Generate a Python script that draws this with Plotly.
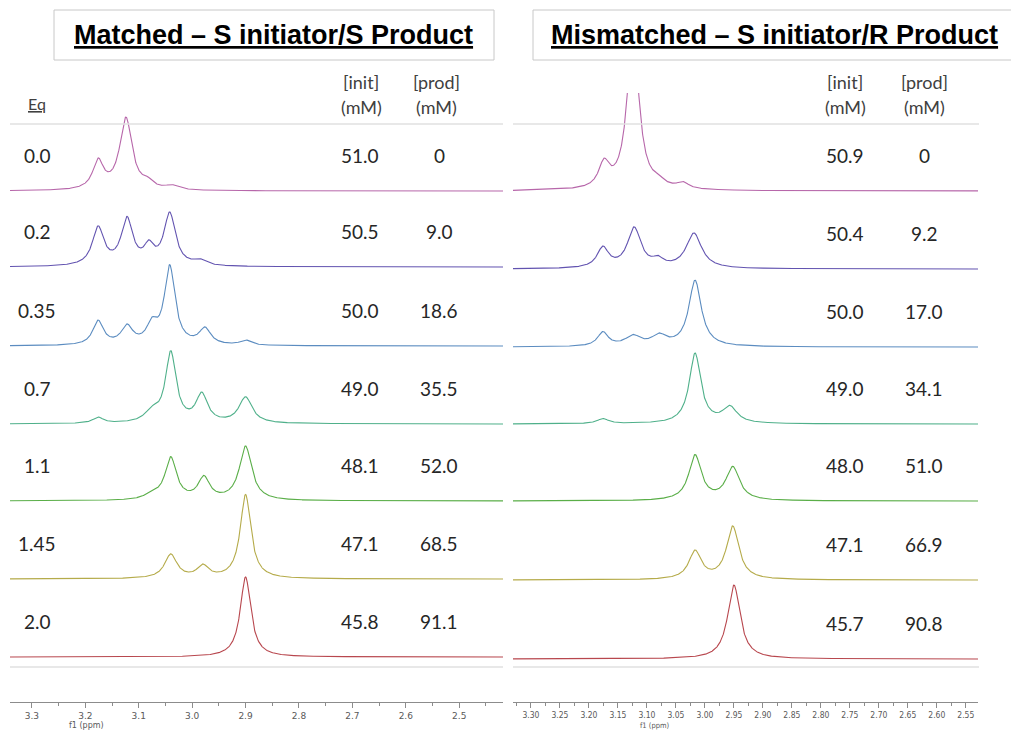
import numpy as np
import plotly.graph_objects as go

W, H = 1011, 730

# ---------------- data ----------------
eq_labels = ["0.0", "0.2", "0.35", "0.7", "1.1", "1.45", "2.0"]
matched_init = ["51.0", "50.5", "50.0", "49.0", "48.1", "47.1", "45.8"]
matched_prod = ["0", "9.0", "18.6", "35.5", "52.0", "68.5", "91.1"]
mismatched_init = ["50.9", "50.4", "50.0", "49.0", "48.0", "47.1", "45.7"]
mismatched_prod = ["0", "9.2", "17.0", "34.1", "51.0", "66.9", "90.8"]

# peak tables: (shift ppm, height, half-width ppm) for each spectrum, top to bottom
matched_peaks = [
    [(3.176, 28, 0.012), (3.124, 72, 0.014), (3.083, 6, 0.012), (3.038, 4, 0.014)],
    [(3.176, 38, 0.013), (3.122, 46, 0.013), (3.081, 17, 0.011), (3.042, 52, 0.013), (2.985, 5, 0.014)],
    [(3.176, 24, 0.012), (3.122, 18, 0.013), (3.075, 18, 0.012), (3.042, 78, 0.012), (2.976, 16, 0.013), (2.900, 5, 0.012)],
    [(3.176, 6, 0.012), (3.075, 10, 0.016), (3.040, 70, 0.012), (2.982, 28, 0.013), (2.900, 26, 0.015)],
    [(3.075, 5, 0.016), (3.040, 42, 0.013), (2.978, 22, 0.013), (2.900, 54, 0.014)],
    [(3.040, 24, 0.014), (2.980, 12, 0.013), (2.900, 84, 0.012)],
    [(2.900, 80, 0.012)],
]
mismatched_peaks = [
    [(3.174, 24, 0.011), (3.124, 160, 0.012), (3.080, 5, 0.012), (3.038, 6, 0.012)],
    [(3.176, 20, 0.012), (3.122, 40, 0.014), (3.081, 7, 0.011), (3.019, 35, 0.016)],
    [(3.176, 14, 0.011), (3.124, 10, 0.016), (3.079, 10, 0.015), (3.017, 66, 0.013)],
    [(3.176, 5, 0.012), (3.017, 70, 0.012), (2.957, 16, 0.015)],
    [(3.017, 45, 0.013), (2.952, 33, 0.014)],
    [(3.017, 28, 0.013), (2.952, 53, 0.013)],
    [(2.950, 74, 0.013)],
]
# vertical stacking offset of each spectrum baseline
matched_offsets = [511, 435, 356, 278, 201, 123, 45]
mismatched_offsets = [511, 433, 355, 278, 201, 122, 43]

spectrum_colors = ["#b767aa", "#6253b0", "#5b8cc0", "#4fb08a", "#5aae48", "#b5ab4a", "#b8474e"]

left_range = [3.341, 2.418]
right_range = [3.331, 2.529]

# ---------------- figure ----------------
def px_x(p):
    return p / W

def px_y(p):
    return 1 - p / H

y_top_px, y_axis_px = 93, 702
ydom = [px_y(y_axis_px), px_y(y_top_px)]
yrange = [0, y_axis_px - y_top_px]

fig = go.Figure()

def spectrum(peaks, xr):
    x = np.linspace(xr[0], xr[1], 1800)
    y = np.zeros_like(x)
    for c, h, w in peaks:
        y += h / (1 + ((x - c) / w) ** 2)
    return x, y

for k in range(7):
    x, y = spectrum(matched_peaks[k], left_range)
    fig.add_trace(go.Scatter(x=x, y=y + matched_offsets[k], mode="lines",
                             line=dict(color=spectrum_colors[k], width=1.1),
                             xaxis="x", yaxis="y", showlegend=False, hoverinfo="skip"))
    x, y = spectrum(mismatched_peaks[k], right_range)
    fig.add_trace(go.Scatter(x=x, y=y + mismatched_offsets[k], mode="lines",
                             line=dict(color=spectrum_colors[k], width=1.1),
                             xaxis="x2", yaxis="y2", showlegend=False, hoverinfo="skip"))

axis_common = dict(showline=True, linecolor="#8c8c8c", linewidth=1, ticks="outside",
                   ticklen=5, tickcolor="#8c8c8c", showgrid=False, zeroline=False,
                   ticklabelstandoff=0,
                   tickfont=dict(family="DejaVu Sans", size=9, color="#595959"))

fig.update_layout(
    width=W, height=H, margin=dict(l=0, r=0, t=0, b=0),
    paper_bgcolor="white", plot_bgcolor="white",
    xaxis=dict(domain=[px_x(10), px_x(503)], range=left_range, anchor="y",
               dtick=0.1, tick0=3.3, tickformat=".1f",
               minor=dict(dtick=0.05, tick0=3.3, ticks="outside", ticklen=3, tickcolor="#8c8c8c"),
               **axis_common),
    xaxis2=dict(domain=[px_x(513), px_x(978)], range=right_range, anchor="y2",
                dtick=0.05, tick0=3.3, tickformat=".2f",
                minor=dict(dtick=0.025, tick0=3.3, ticks="outside", ticklen=3, tickcolor="#8c8c8c"),
                **{**axis_common, "tickfont": dict(family="DejaVu Sans Condensed", size=8.5, color="#595959")}),
    yaxis=dict(domain=ydom, range=yrange, visible=False, anchor="x"),
    yaxis2=dict(domain=ydom, range=yrange, visible=False, anchor="x2"),
)

shapes = []
# title boxes
shapes.append(dict(type="rect", xref="paper", yref="paper", x0=px_x(54), x1=px_x(494),
                   y0=px_y(60), y1=px_y(10), line=dict(color="#c8c8c8", width=1)))
shapes.append(dict(type="rect", xref="paper", yref="paper", x0=px_x(533), x1=px_x(1030),
                   y0=px_y(60), y1=px_y(10), line=dict(color="#c8c8c8", width=1)))
# separator rulers
for yy in (124, 667):
    shapes.append(dict(type="line", xref="paper", yref="paper", x0=px_x(10), x1=px_x(503),
                       y0=px_y(yy), y1=px_y(yy), line=dict(color="#e0e0e0", width=1.5)))
    shapes.append(dict(type="line", xref="paper", yref="paper", x0=px_x(513), x1=px_x(979),
                       y0=px_y(yy), y1=px_y(yy), line=dict(color="#e0e0e0", width=1.5)))
fig.update_layout(shapes=shapes)

ann = []
def txt(x, y, s, size=19, color="#262626", family="Lato", yref="paper"):
    ann.append(dict(x=x, y=y, xref="paper", yref=yref, text=s, showarrow=False,
                    xanchor="center", yanchor="middle",
                    font=dict(family=family, size=size, color=color)))

txt(px_x(273), px_y(35), "<b><u>Matched – S initiator/S Product</u></b>", size=27,
    color="black", family="Liberation Sans")
txt(px_x(774), px_y(35), "<b><u>Mismatched – S initiator/R Product</u></b>", size=27,
    color="black", family="Liberation Sans")

txt(px_x(37), px_y(103), "<u>Eq</u>", size=16, color="#404040")
for cx, label in ((361, "[init]"), (436, "[prod]"), (845, "[init]"), (924, "[prod]")):
    txt(px_x(cx), px_y(82), label, size=18, color="#404040")
    txt(px_x(cx), px_y(107), "(mM)", size=18, color="#404040")

num_font = dict(family="Lato", size=19, color="#262626")
for k in range(7):
    yl = matched_offsets[k] + 36
    for cx, s in ((37, eq_labels[k]), (360, matched_init[k]), (439, matched_prod[k])):
        ann.append(dict(x=px_x(cx), y=yl, xref="paper", yref="y", text=s, showarrow=False,
                        xanchor="center", yanchor="middle", font=num_font))
    yr = mismatched_offsets[k] + 36
    for cx, s in ((845, mismatched_init[k]), (924, mismatched_prod[k])):
        ann.append(dict(x=px_x(cx), y=yr, xref="paper", yref="y2", text=s, showarrow=False,
                        xanchor="center", yanchor="middle", font=num_font))

txt(px_x(86), px_y(725.5), "f1 (ppm)", size=8, color="#595959", family="DejaVu Sans")
txt(px_x(655), px_y(725.5), "f1 (ppm)", size=7.5, color="#595959", family="DejaVu Sans Condensed")

fig.update_layout(annotations=ann)
fig.write_html("out.html", config={"displayModeBar": False},
               post_script="document.body.style.margin='0';document.body.style.overflow='hidden';")
